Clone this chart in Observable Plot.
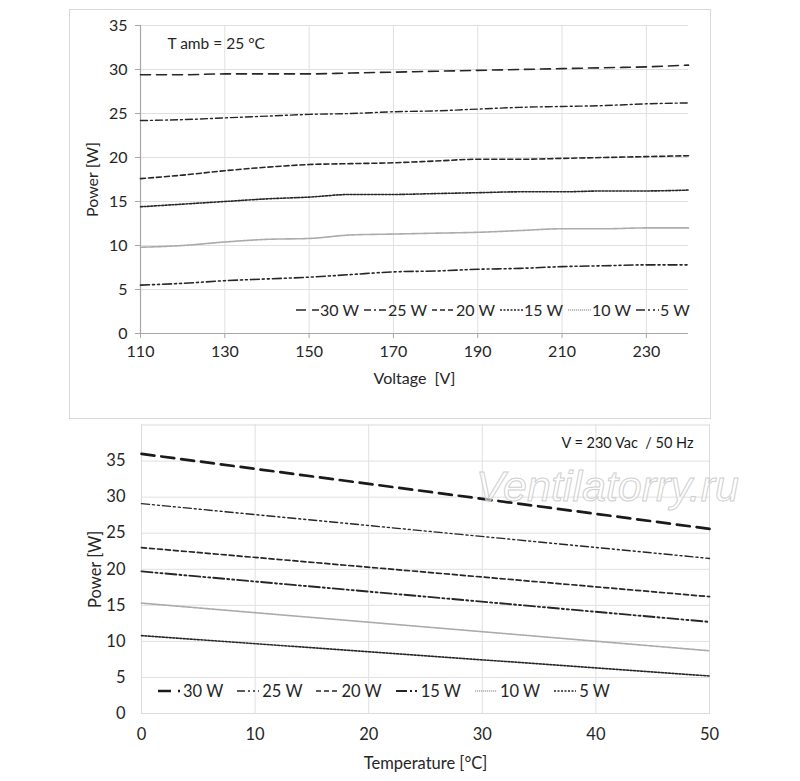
<!DOCTYPE html>
<html>
<head>
<meta charset="utf-8">
<script src="https://cdn.jsdelivr.net/npm/d3@7"></script>
<script src="https://cdn.jsdelivr.net/npm/@observablehq/plot@0.6"></script>
<style>
  html, body { margin: 0; padding: 0; background: #fff; }
  #page { position: relative; width: 800px; height: 781px; overflow: hidden; font-family: Lato, "Open Sans", sans-serif; color: #262626; }
  #topbox { position: absolute; left: 69px; top: 9px; width: 640px; height: 408px; border: 1px solid #d9d9d9; }
  #topchart { position: absolute; left: 0; top: 0; }
  #botchart { position: absolute; left: 0; top: 420px; }
  .legend { position: absolute; display: flex; align-items: center; white-space: nowrap; color: #262626; }
  .legend .item { display: flex; align-items: center; }
  .legend svg { display: block; }
  #watermark { position: absolute; left: 476px; top: 462px; font-family: "Liberation Sans", Arial, sans-serif; font-style: italic; font-size: 43px; color: rgba(255,255,255,0.55); -webkit-text-stroke: 1px #cfcfcf; letter-spacing: 0px; }
</style>
</head>
<body>
<div id="page">
  <div id="topbox"><div id="topchart"></div></div>
  <div id="botchart"></div>
  <div id="legendTop" class="legend"></div>
  <div id="legendBot" class="legend"></div>
  <div id="watermark">Ventilatorry.ru</div>
</div>
<script>
// ---------- data: top chart (power vs voltage, T amb = 25 °C) ----------
const seriesNames = ["30 W", "25 W", "20 W", "15 W", "10 W", "5 W"];
const voltage = [110, 120, 130, 140, 150, 160, 170, 180, 190, 200, 210, 220, 230, 240];
const vP30 = [29.4, 29.4, 29.5, 29.5, 29.5, 29.6, 29.7, 29.8, 29.9, 30.0, 30.1, 30.2, 30.3, 30.5];
const vP25 = [24.2, 24.3, 24.5, 24.7, 24.9, 25.0, 25.2, 25.3, 25.5, 25.7, 25.8, 25.9, 26.1, 26.2];
const vP20 = [17.6, 18.0, 18.5, 18.9, 19.2, 19.3, 19.4, 19.6, 19.8, 19.8, 19.9, 20.0, 20.1, 20.2];
const vP15 = [14.4, 14.7, 15.0, 15.3, 15.5, 15.8, 15.8, 15.9, 16.0, 16.1, 16.1, 16.2, 16.2, 16.3];
const vP10 = [9.8, 10.0, 10.4, 10.7, 10.8, 11.2, 11.3, 11.4, 11.5, 11.7, 11.9, 11.9, 12.0, 12.0];
const vP5  = [5.5, 5.7, 6.0, 6.2, 6.4, 6.7, 7.0, 7.1, 7.3, 7.4, 7.6, 7.7, 7.8, 7.8];
const voltageTicks = [110, 130, 150, 170, 190, 210, 230];
const powerTicks = [0, 5, 10, 15, 20, 25, 30, 35];

// ---------- data: bottom chart (power vs temperature, V = 230 Vac / 50 Hz) ----------
const temperature = [0, 50];
const tP30 = [36.0, 25.6];
const tP25 = [29.1, 21.5];
const tP20 = [23.0, 16.2];
const tP15 = [19.7, 12.7];
const tP10 = [15.3, 8.7];
const tP5  = [10.8, 5.2];
const tempTicks = [0, 10, 20, 30, 40, 50];

// ---------- styles ----------
const topStyles = {
  "30 W": {stroke: "#262626", width: 1.6, dash: "10,6"},
  "25 W": {stroke: "#262626", width: 1.4, dash: "7,3,2,3"},
  "20 W": {stroke: "#262626", width: 1.6, dash: "5,3"},
  "15 W": {stroke: "#262626", width: 1.6, dash: "2,1.5"},
  "10 W": {stroke: "#ababab", width: 1.6, dash: "1.2,0.8"},
  "5 W":  {stroke: "#262626", width: 1.6, dash: "9,3,2,3,2,3"}
};
const botStyles = {
  "30 W": {stroke: "#1a1a1a", width: 2.7, dash: "13,7"},
  "25 W": {stroke: "#262626", width: 1.4, dash: "8,3,2,3,2,3"},
  "20 W": {stroke: "#262626", width: 1.7, dash: "5,3"},
  "15 W": {stroke: "#262626", width: 1.9, dash: "11,3,2,3,2,3"},
  "10 W": {stroke: "#ababab", width: 1.6, dash: "1.2,0.8"},
  "5 W":  {stroke: "#262626", width: 1.6, dash: "2,1.5"}
};

const topValues = [vP30, vP25, vP20, vP15, vP10, vP5];
const botValues = [tP30, tP25, tP20, tP15, tP10, tP5];
const topData = seriesNames.flatMap((s, i) => voltage.map((v, j) => ({series: s, x: v, y: topValues[i][j]})));
const botData = seriesNames.flatMap((s, i) => temperature.map((t, j) => ({series: s, x: t, y: botValues[i][j]})));

const font = "Lato, 'Open Sans', sans-serif";

// ---------- top chart ----------
const topPlot = Plot.plot({
  width: 640, height: 408,
  marginLeft: 70, marginRight: 22, marginTop: 15, marginBottom: 85,
  style: {fontFamily: font, fontSize: "16px", color: "#262626", background: "transparent"},
  x: {domain: [110, 240], ticks: voltageTicks, label: "Voltage  [V]"},
  y: {domain: [0, 35], ticks: powerTicks, label: "Power [W]"},
  marks: [
    Plot.gridX(voltageTicks, {stroke: "#e0e0e0", strokeOpacity: 1}),
    Plot.gridY(powerTicks, {stroke: "#e0e0e0", strokeOpacity: 1}),
    Plot.axisX({ticks: voltageTicks, tickSize: 5, tickPadding: 7, stroke: "#a6a6a6", fill: "#262626",
      label: "Voltage  [V]", labelAnchor: "center", labelArrow: "none", labelOffset: 50}),
    Plot.axisY({ticks: powerTicks, tickSize: 5, tickPadding: 8, stroke: "#a6a6a6", fill: "#262626",
      label: "Power [W]", labelAnchor: "center", labelArrow: "none", labelOffset: 54}),
    Plot.ruleX([110], {stroke: "#a6a6a6", strokeWidth: 1.2}),
    Plot.ruleY([0], {stroke: "#a6a6a6", strokeWidth: 1.2}),
    ...seriesNames.map(s => Plot.line(topData.filter(d => d.series === s), {
      x: "x", y: "y", curve: "monotone-x",
      stroke: topStyles[s].stroke, strokeWidth: topStyles[s].width, strokeDasharray: topStyles[s].dash
    })),
    Plot.text(["T amb = 25 °C"], {frameAnchor: "top-left", dx: 27, dy: 19, lineAnchor: "middle", textAnchor: "start", fontSize: 15.5, fill: "#262626"})
  ]
});
document.getElementById("topchart").appendChild(topPlot);

// ---------- bottom chart ----------
const botPlot = Plot.plot({
  width: 800, height: 361,
  marginLeft: 141, marginRight: 91, marginTop: 4.5, marginBottom: 68,
  style: {fontFamily: font, fontSize: "16.5px", color: "#262626", background: "transparent"},
  x: {domain: [0, 50], ticks: tempTicks, label: "Temperature [°C]"},
  y: {domain: [0, 40], ticks: powerTicks, label: "Power [W]"},
  marks: [
    Plot.gridX(tempTicks, {stroke: "#e0e0e0", strokeOpacity: 1}),
    Plot.gridY(powerTicks, {stroke: "#e0e0e0", strokeOpacity: 1}),
    Plot.frame({stroke: "#dcdcdc"}),
    Plot.axisX({ticks: tempTicks, tickSize: 0, tickPadding: 15, fill: "#262626",
      label: "Temperature [°C]", labelAnchor: "center", labelArrow: "none", labelOffset: 55}),
    Plot.axisY({ticks: powerTicks, tickSize: 0, tickPadding: 16, fill: "#262626",
      label: "Power [W]", labelAnchor: "center", labelArrow: "none", labelOffset: 52}),
    ...seriesNames.map(s => Plot.line(botData.filter(d => d.series === s), {
      x: "x", y: "y",
      stroke: botStyles[s].stroke, strokeWidth: botStyles[s].width, strokeDasharray: botStyles[s].dash
    })),
    Plot.text(["V = 230 Vac  / 50 Hz"], {frameAnchor: "top-right", dx: -16, dy: 18.5, lineAnchor: "middle", textAnchor: "end", fontSize: 14.5, fill: "#1a1a1a"})
  ]
});
document.getElementById("botchart").appendChild(botPlot);

// ---------- legends ----------
function buildLegend(el, styles, opts) {
  el.style.left = opts.left + "px";
  el.style.top = opts.top + "px";
  el.style.fontSize = opts.fontSize + "px";
  el.style.gap = opts.gap + "px";
  seriesNames.forEach(s => {
    const st = styles[s];
    const item = document.createElement("div");
    item.className = "item";
    const sw = opts.swatch;
    item.innerHTML = `<svg width="${sw}" height="12"><line x1="0" y1="6" x2="${sw}" y2="6" stroke="${st.stroke}" stroke-width="${st.width}" stroke-dasharray="${st.dash}"/></svg><span style="margin-left:${opts.pad}px">${s}</span>`;
    el.appendChild(item);
  });
}
buildLegend(document.getElementById("legendTop"), topStyles, {left: 296, top: 300, fontSize: 16, gap: 5, swatch: 23, pad: 1});
buildLegend(document.getElementById("legendBot"), botStyles, {left: 158, top: 681, fontSize: 16.5, gap: 14, swatch: 22, pad: 3});
</script>
</body>
</html>
